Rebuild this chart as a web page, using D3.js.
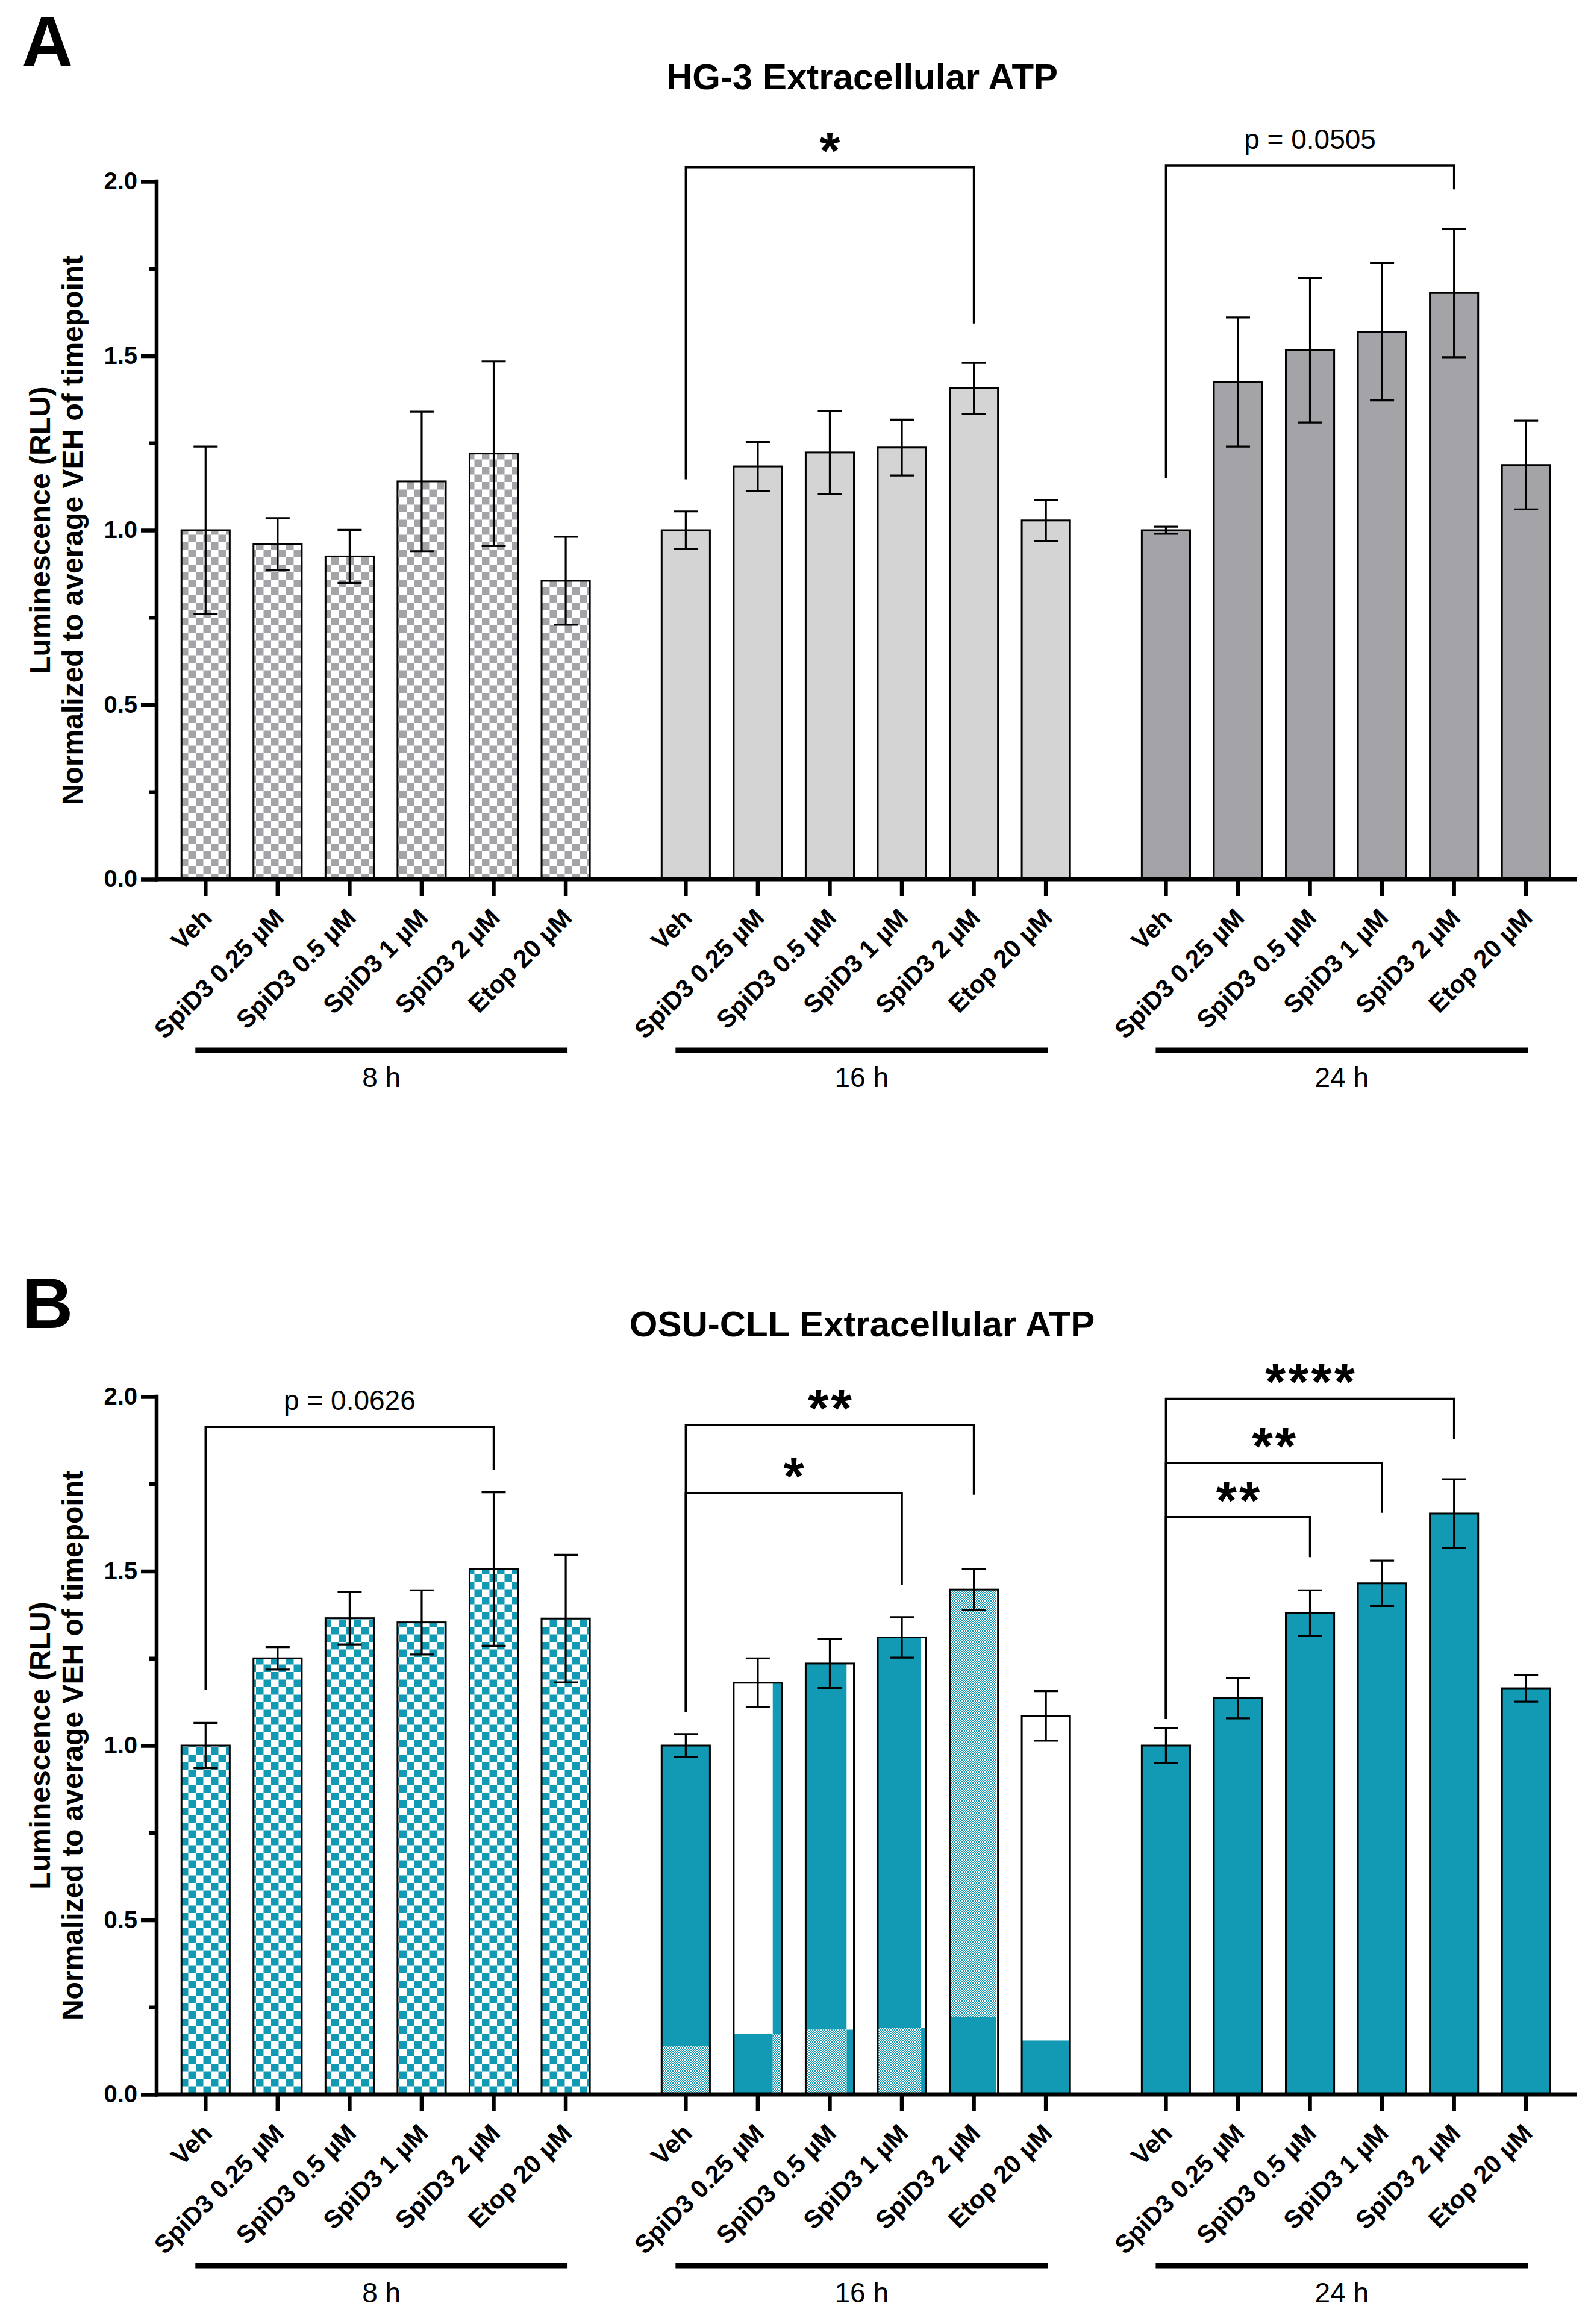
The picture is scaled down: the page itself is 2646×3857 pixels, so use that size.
<!DOCTYPE html>
<html>
<head>
<meta charset="utf-8">
<script src="https://cdn.jsdelivr.net/npm/d3@7"></script>
<style>
  body { margin: 0; background: #fff; }
  text { font-family: "Liberation Sans", Arial, sans-serif; }
</style>
</head>
<body>
<div id="chart"></div>
<script>
// data
const groups = ["8 h", "16 h", "24 h"];
const treatments = ["Veh", "SpiD3 0.25 µM", "SpiD3 0.5 µM", "SpiD3 1 µM", "SpiD3 2 µM", "Etop 20 µM"];
const yTicks = [0, 0.5, 1.0, 1.5, 2.0];
const yMinorTicks = [0.25, 0.75, 1.25, 1.75];

// HG-3, mean and SD per timepoint
const hg3Mean = [
    [1.00, 0.96, 0.925, 1.14, 1.22, 0.855],
    [1.00, 1.183, 1.223, 1.237, 1.407, 1.028],
    [1.00, 1.425, 1.516, 1.569, 1.68, 1.187]
];
const hg3Err = [
    [0.24, 0.075, 0.076, 0.20, 0.264, 0.126],
    [0.054, 0.07, 0.119, 0.08, 0.073, 0.059],
    [0.01, 0.185, 0.207, 0.197, 0.184, 0.127]
];

// OSU-CLL
const osuMean = [
    [1.00, 1.25, 1.365, 1.353, 1.506, 1.364],
    [1.00, 1.18, 1.235, 1.31, 1.447, 1.085],
    [1.00, 1.136, 1.38, 1.465, 1.665, 1.164]
];
const osuErr = [
    [0.065, 0.032, 0.075, 0.092, 0.22, 0.183],
    [0.033, 0.07, 0.07, 0.058, 0.059, 0.071],
    [0.05, 0.058, 0.065, 0.065, 0.098, 0.038]
];

// comparisons: group, from bar, to bar, label, bracket level, left leg end, right leg end
const hg3Sig = [
    {g: 1, from: 0, to: 4, label: "*", top: 2.04, left: 1.146, right: 1.593},
    {g: 2, from: 0, to: 4, label: "p = 0.0505", top: 2.045, left: 1.149, right: 1.977}
];
const osuSig = [
    {g: 0, from: 0, to: 4, label: "p = 0.0626", top: 1.913, left: 1.159, right: 1.791},
    {g: 1, from: 0, to: 3, label: "*", top: 1.724, left: 1.095, right: 1.461},
    {g: 1, from: 0, to: 4, label: "**", top: 1.919, left: 1.095, right: 1.719},
    {g: 2, from: 0, to: 2, label: "**", top: 1.655, left: 1.076, right: 1.54},
    {g: 2, from: 0, to: 3, label: "**", top: 1.81, left: 1.076, right: 1.667},
    {g: 2, from: 0, to: 4, label: "****", top: 1.994, left: 1.076, right: 1.879}
];

// the 16 h OSU-CLL bars come out of the export as blocks of the fine pattern
const b16Split = [0.138, 0.174, 0.186, 0.19, 0.222, 0.155];
const b16Strip = [0, 0.19, 0.15, 0.1, 0.04, 0];
const b16Fill = [
    ["fine", "fine", "solid", "solid"],
    ["solid", "fine", "white", "solid"],
    ["fine", "solid", "solid", "white"],
    ["fine", "solid", "solid", "white"],
    ["solid", "white", "fine", "white"],
    ["solid", "solid", "white", "white"]
];

const svgWidth = 2646;
const svgHeight = 3857;
const teal = "#129ab5";
const gray = "#a3a3a8";
const lightGray = "#d4d4d4";

let svg = d3.select("#chart").append("svg")
    .attr("width", svgWidth)
    .attr("height", svgHeight);

svg.append("rect").attr("width", svgWidth).attr("height", svgHeight).attr("fill", "#fff");

let defs = svg.append("defs");

function checker(id, color, size) {
    let p = defs.append("pattern")
        .attr("id", id)
        .attr("patternUnits", "userSpaceOnUse")
        .attr("width", size * 2)
        .attr("height", size * 2);
    p.append("rect").attr("width", size * 2).attr("height", size * 2).attr("fill", "#fff");
    p.append("rect").attr("width", size).attr("height", size).attr("fill", color);
    p.append("rect").attr("x", size).attr("y", size).attr("width", size).attr("height", size).attr("fill", color);
}
checker("checkGray", gray, 12.5);
checker("checkTeal", teal, 12.5);
checker("fineTeal", teal, 2);

const fineFills = {fine: "url(#fineTeal)", solid: teal, white: "#fff"};

// x scales shared by both panels
let xGroup = d3.scaleBand()
    .domain(groups)
    .range([281.5, 2593])
    .paddingInner(0.1);

let xBar = d3.scaleBand()
    .domain(treatments)
    .range([0, xGroup.bandwidth()])
    .paddingInner(0.33)
    .paddingOuter(0.165);

const cx = (gi, ti) => xGroup(groups[gi]) + xBar(treatments[ti]) + xBar.bandwidth() / 2;

function drawPanel(p) {
    let y = d3.scaleLinear().domain([0, 2]).range([p.y0, p.y0 - 1158]);
    let g = svg.append("g");
    let bw = xBar.bandwidth();

    // panel letter and title
    g.append("text")
        .attr("x", 36).attr("y", p.letterY)
        .attr("font-size", 118).attr("font-weight", "bold")
        .text(p.letter);
    g.append("text")
        .attr("x", 1431).attr("y", p.titleY)
        .attr("text-anchor", "middle")
        .attr("font-size", 60).attr("font-weight", "bold")
        .text(p.title);

    // y axis title
    let yt = g.append("text")
        .attr("transform", `translate(0, ${y(1)}) rotate(-90)`)
        .attr("text-anchor", "middle")
        .attr("font-size", 48).attr("font-weight", "bold");
    yt.append("tspan").attr("x", 0).attr("y", 83).text("Luminescence (RLU)");
    yt.append("tspan").attr("x", 0).attr("y", 137).text("Normalized to average VEH of timepoint");

    // bars
    p.means.forEach((row, gi) => {
        row.forEach((m, ti) => {
            let x0 = cx(gi, ti) - bw / 2;
            if (p.special && gi === 1) {
                let s = b16Split[ti], w2 = bw * b16Strip[ti], w1 = bw - w2, f = b16Fill[ti];
                let parts = [
                    [x0, w1, 0, s, f[0]], [x0 + w1, w2, 0, s, f[1]],
                    [x0, w1, s, m, f[2]], [x0 + w1, w2, s, m, f[3]]
                ];
                parts.forEach(d => {
                    g.append("rect")
                        .attr("x", d[0]).attr("width", d[1])
                        .attr("y", y(d[3])).attr("height", y(d[2]) - y(d[3]))
                        .attr("fill", fineFills[d[4]]);
                });
                g.append("rect")
                    .attr("x", x0).attr("width", bw)
                    .attr("y", y(m)).attr("height", y(0) - y(m))
                    .attr("fill", "none").attr("stroke", "#000").attr("stroke-width", 3);
            } else {
                g.append("rect")
                    .attr("x", x0).attr("width", bw)
                    .attr("y", y(m)).attr("height", y(0) - y(m))
                    .attr("fill", p.fills[gi])
                    .attr("stroke", "#000").attr("stroke-width", 3);
            }
        });
    });

    // error bars
    p.means.forEach((row, gi) => {
        row.forEach((m, ti) => {
            let e = p.errs[gi][ti], x = cx(gi, ti);
            let eb = g.append("g").attr("stroke", "#000").attr("stroke-width", 3.2);
            eb.append("line").attr("x1", x).attr("x2", x).attr("y1", y(m - e)).attr("y2", y(m + e));
            eb.append("line").attr("x1", x - 20).attr("x2", x + 20).attr("y1", y(m + e)).attr("y2", y(m + e));
            eb.append("line").attr("x1", x - 20).attr("x2", x + 20).attr("y1", y(m - e)).attr("y2", y(m - e));
        });
    });

    // significance brackets
    p.sig.forEach(s => {
        let x1 = cx(s.g, s.from), x2 = cx(s.g, s.to);
        g.append("path")
            .attr("d", `M${x1},${y(s.left)}V${y(s.top)}H${x2}V${y(s.right)}`)
            .attr("fill", "none").attr("stroke", "#000").attr("stroke-width", 3.5);
        let isP = s.label.startsWith("p");
        g.append("text")
            .attr("x", (x1 + x2) / 2 + (isP ? 0 : 2))
            .attr("y", isP ? y(s.top) - 28 : y(s.top) + 2)
            .attr("text-anchor", "middle")
            .attr("font-size", isP ? 46 : 88)
            .attr("font-weight", isP ? "normal" : "bold")
            .attr("letter-spacing", isP ? null : 4)
            .text(s.label);
    });

    // y axis
    let yAxis = g.append("g")
        .attr("transform", "translate(260, 0)")
        .call(d3.axisLeft(y).tickValues(yTicks).tickFormat(d3.format(".1f")).tickSize(26).tickSizeOuter(0).tickPadding(6));
    yAxis.select(".domain").remove();
    yAxis.selectAll("line").attr("stroke-width", 6.5);
    yAxis.selectAll("text")
        .attr("font-size", 40).attr("font-weight", "bold")
        .attr("font-family", "'Liberation Sans', Arial, sans-serif");

    let yMinor = g.append("g")
        .attr("transform", "translate(260, 0)")
        .call(d3.axisLeft(y).tickValues(yMinorTicks).tickFormat("").tickSize(13).tickSizeOuter(0));
    yMinor.select(".domain").remove();
    yMinor.selectAll("line").attr("stroke-width", 6.5);

    g.append("line")
        .attr("x1", 260).attr("x2", 260)
        .attr("y1", y(2) - 3.25).attr("y2", y(0) + 3.5)
        .attr("stroke", "#000").attr("stroke-width", 6.5);

    // x axis
    g.append("line")
        .attr("x1", 257).attr("x2", 2617)
        .attr("y1", y(0)).attr("y2", y(0))
        .attr("stroke", "#000").attr("stroke-width", 7);

    groups.forEach((grp, gi) => {
        let xa = g.append("g")
            .attr("transform", `translate(${xGroup(grp)}, ${y(0)})`)
            .call(d3.axisBottom(xBar).tickSize(28).tickSizeOuter(0));
        xa.select(".domain").remove();
        xa.selectAll("line").attr("stroke-width", 6.5);
        xa.selectAll("text")
            .attr("x", 0).attr("y", 0).attr("dy", 0)
            .attr("transform", "translate(13, 67) rotate(-45)")
            .style("text-anchor", "end")
            .attr("font-size", 42).attr("font-weight", "bold")
            .attr("font-family", "'Liberation Sans', Arial, sans-serif");

        g.append("line")
            .attr("x1", cx(gi, 0) - 17).attr("x2", cx(gi, 5) + 3)
            .attr("y1", y(0) + 284).attr("y2", y(0) + 284)
            .attr("stroke", "#000").attr("stroke-width", 9);
        g.append("text")
            .attr("x", (cx(gi, 0) + cx(gi, 5)) / 2 - 7)
            .attr("y", y(0) + 345)
            .attr("text-anchor", "middle")
            .attr("font-size", 46)
            .text(grp);
    });
}

drawPanel({
    letter: "A", letterY: 110, title: "HG-3 Extracellular ATP", titleY: 148, y0: 1459,
    means: hg3Mean, errs: hg3Err, sig: hg3Sig,
    fills: ["url(#checkGray)", lightGray, gray]
});

drawPanel({
    letter: "B", letterY: 2204, title: "OSU-CLL Extracellular ATP", titleY: 2218, y0: 3476,
    means: osuMean, errs: osuErr, sig: osuSig,
    fills: ["url(#checkTeal)", teal, teal], special: true
});
</script>
</body>
</html>
